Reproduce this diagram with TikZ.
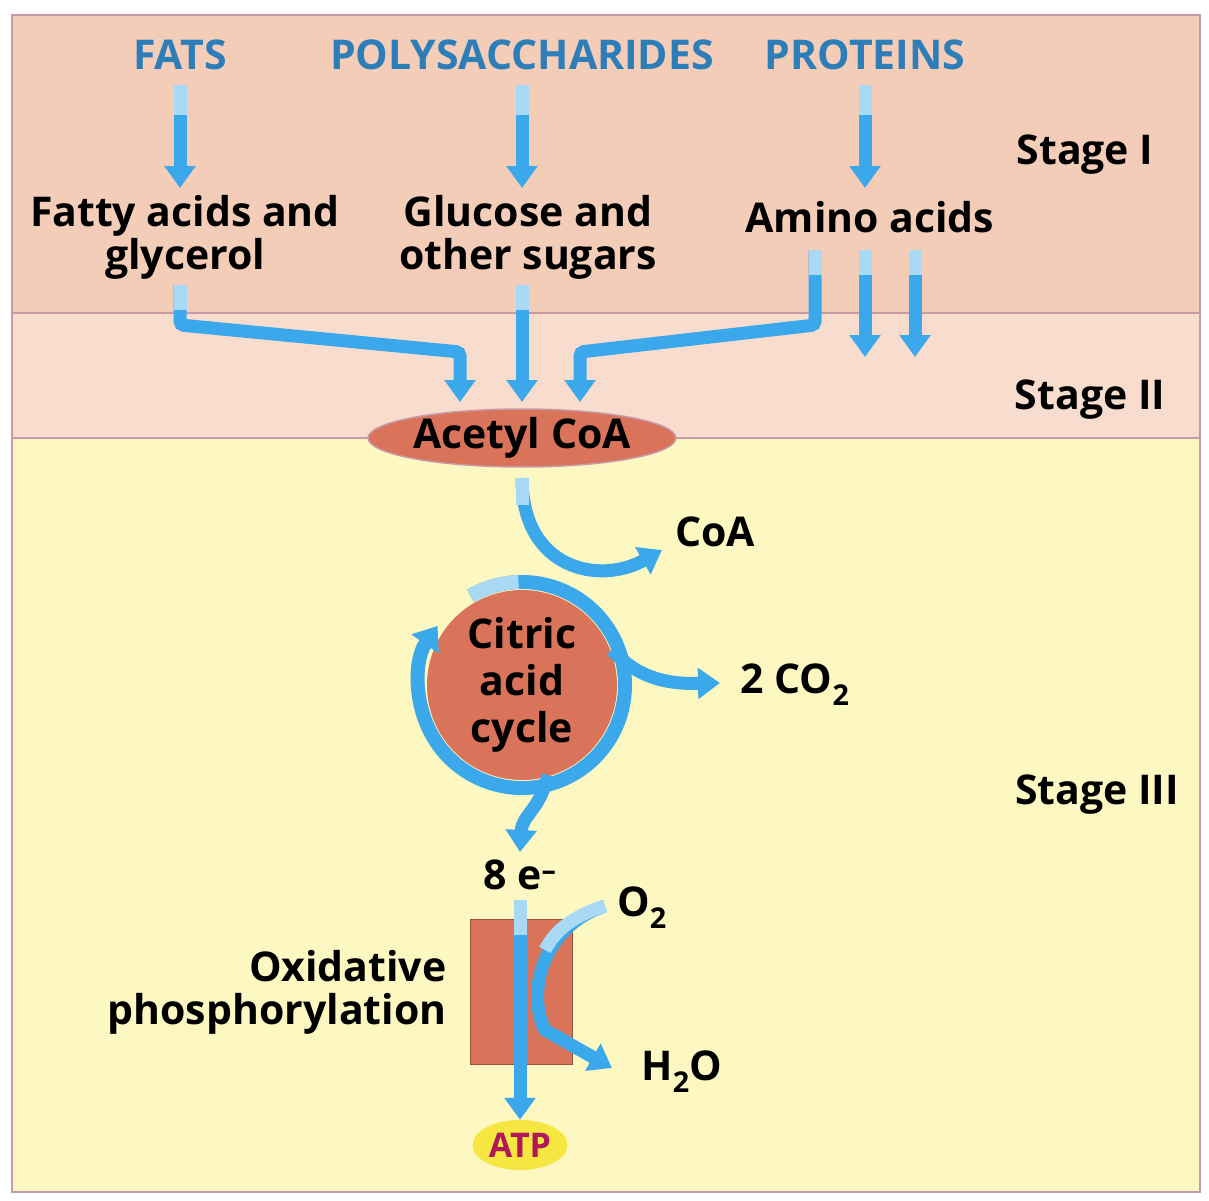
\documentclass[tikz,border=0pt]{standalone}
\usepackage{fontspec}
\setmainfont{Open Sans}
\usetikzlibrary{arrows.meta,shapes.geometric}
\definecolor{bandA}{HTML}{F4CDB8}
\definecolor{bandB}{HTML}{F8DCCD}
\definecolor{bandC}{HTML}{FDF8C2}
\definecolor{edge}{HTML}{C89AA8}
\definecolor{ttl}{HTML}{2C7DB8}
\definecolor{arr}{HTML}{3AA8EA}
\definecolor{arrl}{HTML}{A8DAF6}
\definecolor{rust}{HTML}{D9735A}
\definecolor{atpy}{HTML}{F5E642}
\definecolor{atpt}{HTML}{B0185A}
\tikzset{
  ttlt/.style={font=\bfseries\fontsize{41}{44}\selectfont, text=ttl},
  lbl/.style={font=\bfseries\fontsize{41}{43}\selectfont, align=center},
  big/.style={font=\bfseries\fontsize{41}{44}\selectfont},
  flow/.style={draw=arr, line width=13pt, -{Triangle[width=30pt,length=22pt]}},
  lite/.style={draw=arrl, line width=13pt},
}
\begin{document}
\begin{tikzpicture}[x=1pt,y=-1pt]
\useasboundingbox (0,0) rectangle (1209,1200);
\fill[white] (0,0) rectangle (1209,1200);
\fill[bandA] (12,15) rectangle (1200,313);
\fill[bandB] (12,313) rectangle (1200,438);
\fill[bandC] (12,438) rectangle (1200,1192);
\draw[edge,line width=1.5pt] (12,313) -- (1200,313) (12,438) -- (1200,438);
\draw[edge,line width=2pt] (12,15) rectangle (1200,1192);

\node[ttlt] (fats) at (180,55) {FATS};
\node[ttlt] (poly) at (522,55) {POLYSACCHARIDES};
\node[ttlt] (prot) at (865,55) {PROTEINS};
\node[lbl] (fa) at (185,237) {Fatty acids and\\glycerol};
\node[lbl] (gl) at (528,237) {Glucose and\\other sugars};
\node[lbl] (aa) at (870,217) {Amino acids};
\node[big] (s1) at (1085,155) {Stage I};
\node[big] (s2) at (1090,400) {Stage II};
\node[big] (s3) at (1097,795) {Stage III};

\coordinate (f0) at (180,85); \coordinate (f1) at (180,188);
\coordinate (p0) at (522,85); \coordinate (p1) at (522,188);
\coordinate (r0) at (865,85); \coordinate (r1) at (865,188);
\draw[flow] (f0) -- (f1);
\draw[flow] (p0) -- (p1);
\draw[flow] (r0) -- (r1);
\draw[lite,line cap=butt] (f0) -- ++(0,30) (p0) -- ++(0,30) (r0) -- ++(0,30);

\node[ellipse, draw=edge, line width=1.5pt, fill=rust, minimum width=290pt, minimum height=48pt, inner sep=0pt, big] (acoa) at (522,438) {Acetyl CoA};

\draw[flow,rounded corners=4pt] (180,285) -- (180,325) -- (460,352) -- (460,402);
\draw[flow] (522,285) -- (522,402);
\draw[flow,rounded corners=4pt] (815,250) -- (815,325) -- (580,352) -- (580,402);
\draw[flow] (865,250) -- (865,357);
\draw[flow] (915,250) -- (915,357);
\draw[lite,line cap=butt] (180,285) -- ++(0,25) (522,285) -- ++(0,25) (815,250) -- ++(0,25) (865,250) -- ++(0,25) (915,250) -- ++(0,25);

\node[big] (coa) at (715,532) {CoA};
\draw[flow] (522,478) .. controls (522,570) and (600,585) .. (662,550);
\draw[lite,line cap=butt] (522,478) -- (522,505);

\node[circle, fill=rust, minimum size=190pt, inner sep=0pt, align=center, font=\bfseries\fontsize{41}{47}\selectfont] (cac) at (522,685) {Citric\\acid\\cycle};
\draw[draw=arr, line width=14pt, -{Triangle[width=32pt,length=22pt]}] (522,685) ++(-120:103) arc[start angle=-120, end angle=215, radius=103];
\draw[draw=arrl, line width=14pt] (522,685) ++(-120:103) arc[start angle=-120, end angle=-92, radius=103];

\node[big] (co2) at (795,685) {2 CO\textsubscript{2}};
\draw[flow] (612,650) .. controls (640,680) and (670,684) .. (720,683);
\node[big] (ee) at (520,875) {8 e\textsuperscript{--}};
\draw[flow] (548,775) .. controls (540,810) and (522,815) .. (520,852);

\node[rectangle, draw=rust!70!black, line width=1pt, fill=rust, minimum width=102pt, minimum height=145pt] (ox) at (521,992) {};
\node[lbl, align=right, anchor=east] (oxt) at (450,992) {Oxidative\\phosphorylation};
\node[ellipse, fill=atpy, minimum width=95pt, minimum height=50pt, inner sep=0pt, text=atpt, font=\bfseries\fontsize{34}{36}\selectfont] (atp) at (520,1145) {ATP};
\node[big] (o2) at (642,908) {O\textsubscript{2}};
\node[big] (h2o) at (682,1072) {H\textsubscript{2}O};
\draw[flow] (520,900) -- (atp.north);
\draw[lite,line cap=butt] (520,900) -- (520,935);
\draw[flow] (605,906) .. controls (545,925) and (525,990) .. (545,1030) -- (612,1068);
\draw[draw=arrl, line width=13pt] (605,906) .. controls (575,915) and (555,930) .. (545,950);
\end{tikzpicture}
\end{document}
